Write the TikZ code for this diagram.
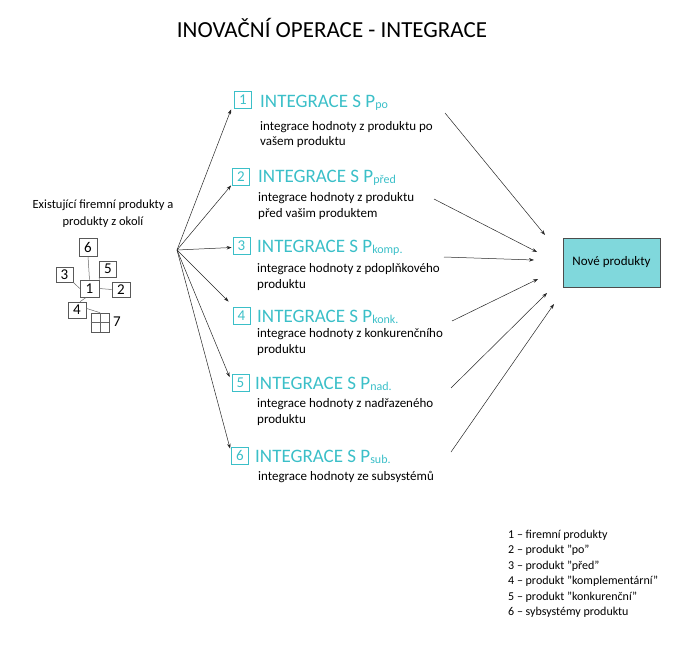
\documentclass[tikz,border=0pt]{standalone}
\usepackage{fontspec}
\setmainfont{Carlito}
\usetikzlibrary{arrows.meta}
\definecolor{tealtxt}{HTML}{3BBFC8}
\definecolor{novefill}{HTML}{80D8DC}
\begin{document}
\begin{tikzpicture}[x=1pt,y=-1pt,
  numbox/.style={draw=tealtxt, line width=0.8pt, text=tealtxt, minimum width=17pt, minimum height=17pt, inner sep=0pt, font=\fontsize{15}{15}\selectfont},
  ttl/.style={anchor=base west, inner sep=0pt, text=tealtxt, font=\fontsize{19}{20}\selectfont},
  desc/.style={anchor=base west, inner sep=0pt, align=left, font=\fontsize{13}{15.5}\selectfont},
  sbox/.style={draw=black!65, line width=0.6pt, inner sep=0pt, font=\fontsize{15}{15}\selectfont},
  arr/.style={-{Stealth[length=5pt,width=3.5pt]}, line width=0.5pt, black!85},
  thin/.style={draw=black!60, line width=0.5pt}
]
\useasboundingbox (0,0) rectangle (690,650);
\newcommand{\sub}[1]{{\fontsize{12}{12}\selectfont\raisebox{-1.5pt}{#1}}}

% title
\node[anchor=base, inner sep=0pt, font=\fontsize{23}{23}\selectfont] (title) at (332,38) {INOVAČNÍ OPERACE - INTEGRACE};

% left caption (base = last line)
\node[anchor=base, inner sep=0pt, align=center, font=\fontsize{12.5}{17}\selectfont] (cap) at (103,225) {Existující firemní produkty a\\produkty z okolí};

% small diagram
\node[sbox, minimum width=18pt, minimum height=18pt] (s6) at (88,247) {6};
\node[sbox, minimum width=17pt, minimum height=16pt] (s5) at (108,269) {5};
\node[sbox, minimum width=17pt, minimum height=15pt] (s3) at (64.5,274.5) {3};
\node[sbox, minimum width=19pt, minimum height=17pt] (s1) at (89.5,288.5) {1};
\node[sbox, minimum width=18pt, minimum height=15pt] (s2) at (121,289.5) {2};
\node[sbox, minimum width=18pt, minimum height=16pt] (s4) at (77,310) {4};
\node[sbox, minimum width=18pt, minimum height=19pt] (sg) at (100,322.5) {};
\draw[thin] (sg.north) -- (sg.south) (sg.west) -- (sg.east);
\node[anchor=base, inner sep=0pt, font=\fontsize{15}{15}\selectfont] (s7) at (117,326) {7};
\draw[thin] (s6.south) -- (s1.north);
\draw[thin] (s5.south west) -- (s1.north east);
\draw[thin] (s3.south east) -- (s1.west);
\draw[thin] (s2.west) -- (s1.east);
\draw[thin] (s4.70) -- (s1.250);
\draw[thin] (s4.10) -- (sg.north);

% fan origin
\coordinate (o) at (177,250);

% items (desc base = last line baseline)
\node[numbox] (b1) at (243,99.5) {1};
\node[ttl] (t1) at (260,107) {INTEGRACE S P\sub{po}};
\node[desc] (d1) at (260,146) {integrace hodnoty z produktu po\\vašem produktu};

\node[numbox] (b2) at (241,176.5) {2};
\node[ttl] (t2) at (258,182) {INTEGRACE S P\sub{před}};
\node[desc] (d2) at (258,217) {integrace hodnoty z produktu\\před vašim produktem};

\node[numbox] (b3) at (241.5,245.5) {3};
\node[ttl] (t3) at (257,252) {INTEGRACE S P\sub{komp.}};
\node[desc] (d3) at (257,288) {integrace hodnoty z pdoplňkového\\produktu};

\node[numbox] (b4) at (241.5,315.5) {4};
\node[ttl] (t4) at (257,322) {INTEGRACE S P\sub{konk.}};
\node[desc] (d4) at (257,353) {integrace hodnoty z konkurenčního\\produktu};

\node[numbox] (b5) at (240.5,383) {5};
\node[ttl] (t5) at (255,389) {INTEGRACE S P\sub{nad.}};
\node[desc] (d5) at (257,423) {integrace hodnoty z nadřazeného\\produktu};

\node[numbox] (b6) at (240,455.5) {6};
\node[ttl] (t6) at (255,462) {INTEGRACE S P\sub{sub.}};
\node[desc] (d6) at (258,480) {integrace hodnoty ze subsystémů};

% left arrows
\draw[arr] (o) -- ([shift={(-3,1)}]b1.south west);
\draw[arr] (o) -- ([shift={(-1,0)}]b2.south west);
\draw[arr] (o) -- ([shift={(-1,2)}]b3.west);
\draw[arr] (o) -- ([shift={(-4,-5)}]b4.north west);
\draw[arr] (o) -- ([shift={(-2,3)}]b5.north west);
\draw[arr] (o) -- ([shift={(-1,2)}]b6.north west);

% target box
\node[draw=black!70, line width=0.7pt, fill=novefill, minimum width=97pt, minimum height=49pt, font=\fontsize{13}{13}\selectfont] (nove) at (611.5,262.5) {Nové produkty};

% right arrows
\coordinate (r1s) at (445,113); \coordinate (r1e) at (545,235);
\coordinate (r2s) at (434,199); \coordinate (r2e) at (537,252);
\coordinate (r3s) at (444,257); \coordinate (r3e) at (534,260);
\coordinate (r4s) at (452,321); \coordinate (r4e) at (538,279);
\coordinate (r5s) at (451,388); \coordinate (r5e) at (547,293);
\coordinate (r6s) at (451,452); \coordinate (r6e) at (554,304);
\foreach \i in {1,...,6} \draw[arr] (r\i s) -- (r\i e);

% legend (base = last line)
\node[anchor=base west, inner sep=0pt, align=left, font=\fontsize{12}{15.5}\selectfont] (leg) at (508,615.5) {1 -- firemní produkty\\2 -- produkt "po"\\3 -- produkt "před"\\4 -- produkt "komplementární"\\5 -- produkt "konkurenční"\\6 -- sybsystémy produktu};
\end{tikzpicture}
\end{document}
